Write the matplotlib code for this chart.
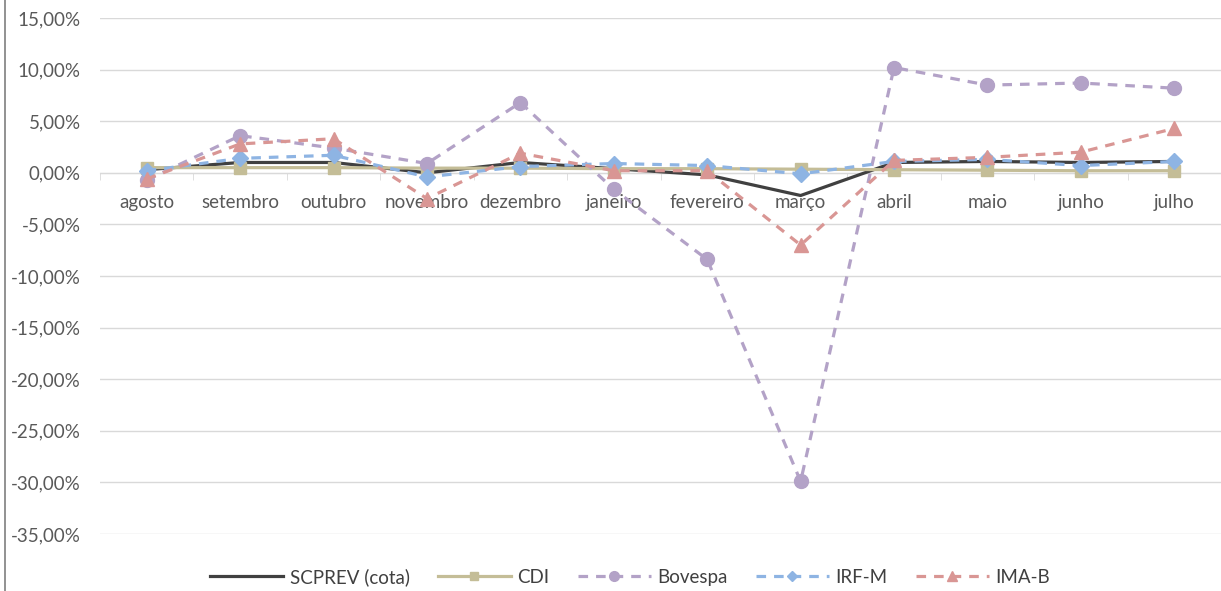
import numpy as np
import matplotlib
matplotlib.use("Agg")
import matplotlib.pyplot as plt
from matplotlib.ticker import FuncFormatter, FixedLocator
from matplotlib.lines import Line2D

plt.rcParams['font.family'] = ['Lato', 'DejaVu Sans']

months = ['agosto', 'setembro', 'outubro', 'novembro', 'dezembro', 'janeiro',
          'fevereiro', 'março', 'abril', 'maio', 'junho', 'julho']

scprev = [0.3, 1.0, 1.0, 0.0, 1.0, 0.4, -0.2, -2.2, 1.0, 1.1, 1.0, 1.1]
cdi = [0.5, 0.5, 0.5, 0.45, 0.45, 0.4, 0.4, 0.35, 0.3, 0.25, 0.2, 0.2]
bovespa = [-0.7, 3.6, 2.4, 0.9, 6.8, -1.6, -8.4, -29.9, 10.2, 8.5, 8.7, 8.2]
irfm = [0.2, 1.4, 1.7, -0.4, 0.6, 0.9, 0.7, -0.1, 1.1, 1.3, 0.7, 1.1]
imab = [-0.6, 2.8, 3.3, -2.5, 1.9, 0.2, 0.2, -7.0, 1.2, 1.5, 2.0, 4.3]

fig = plt.figure(figsize=(12.21, 5.91), dpi=100)
ax = fig.add_axes([100 / 1221, 57 / 591, 1121 / 1221, 516 / 591])

x = np.arange(len(months))
lw = 2.3
dash = (0, (3, 2.5))
ax.plot(x, scprev, color='#404040', lw=lw, label='SCPREV (cota)', zorder=3)
ax.plot(x, cdi, color='#c4bd97', lw=lw, marker='s', ms=9, label='CDI', zorder=3)
ax.plot(x, bovespa, color='#b3a2c7', lw=lw, ls=dash, marker='o', ms=10,
        label='Bovespa', zorder=3)
ax.plot(x, irfm, color='#8eb4e3', lw=lw, ls=dash, marker='D', ms=8,
        label='IRF-M', zorder=3)
ax.plot(x, imab, color='#d99694', lw=lw, ls=dash, marker='^', ms=10,
        label='IMA-B', zorder=3)

ax.set_xlim(-0.5, len(months) - 0.5)
ax.set_ylim(-35, 15)
ax.set_yticks(np.arange(-35, 16, 5))
ax.yaxis.set_major_formatter(FuncFormatter(lambda v, p: f"{v:.2f}%".replace('.', ',')))
ax.yaxis.grid(True, color='#d9d9d9', lw=1)
ax.set_axisbelow(True)
ax.tick_params(axis='y', length=0, labelsize=13.5, colors='#595959', pad=14)

ax.set_xticks(x)
ax.set_xticklabels(months)
ax.xaxis.set_minor_locator(FixedLocator(np.arange(-0.5, len(months), 1)))
ax.tick_params(axis='x', which='major', length=0, labelsize=13.5, colors='#595959', pad=15)
ax.tick_params(axis='x', which='minor', length=5, color='#d9d9d9', direction='out')

for s in ['top', 'right', 'left']:
    ax.spines[s].set_visible(False)
ax.spines['bottom'].set_position(('data', 0))
ax.spines['bottom'].set_color('#d9d9d9')

leg = fig.legend(loc='lower center', bbox_to_anchor=(0.516, -0.02), ncol=5, frameon=False,
                 fontsize=13.5, handlelength=3.9, handletextpad=0.35, columnspacing=1.5,
                 markerscale=0.7)
for t in leg.get_texts():
    t.set_color('#404040')

fig.add_artist(Line2D([5 / 1221, 5 / 1221], [0, 1], color='#7f7f7f', lw=1.2,
                      transform=fig.transFigure))

fig.savefig('out.png', dpi=100)
